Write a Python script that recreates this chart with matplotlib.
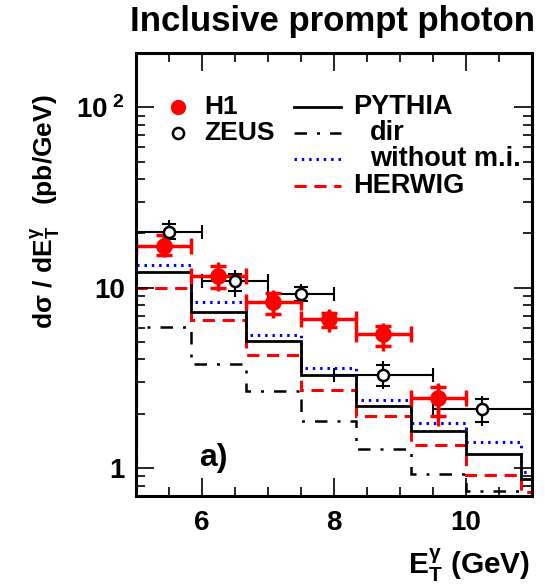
import matplotlib
matplotlib.use('Agg')
import matplotlib.pyplot as plt
import numpy as np

plt.rcParams['font.family'] = ['Liberation Sans', 'DejaVu Sans']
plt.rcParams['font.weight'] = 'bold'
plt.rcParams['mathtext.fontset'] = 'custom'
plt.rcParams['mathtext.rm'] = 'Liberation Sans:bold'
plt.rcParams['mathtext.it'] = 'Liberation Sans:bold'
plt.rcParams['mathtext.bf'] = 'Liberation Sans:bold'
plt.rcParams['mathtext.default'] = 'rm'

# H1 data points
h1_x = [5.42, 6.25, 7.08, 7.92, 8.75, 9.58]
h1_lo = [5.0, 5.833, 6.667, 7.5, 8.333, 9.167]
h1_hi = [5.833, 6.667, 7.5, 8.333, 9.167, 10.0]
h1_y = [17.1, 11.6, 8.3, 6.7, 5.55, 2.45]
h1_tot_up = [20.2, 13.8, 9.75, 7.6, 6.4, 2.96]
h1_tot_dn = [14.7, 9.55, 6.8, 5.7, 4.44, 1.7]
h1_stat_up = [19.6, 13.2, 9.4, 7.25, 6.15, 2.8]
h1_stat_dn = [15.2, 10.0, 7.1, 6.05, 4.75, 1.95]

# ZEUS data points
z_x = [5.5, 6.5, 7.5, 8.75, 10.25]
z_lo = [5.0, 6.0, 7.0, 8.0, 9.5]
z_hi = [6.0, 7.0, 8.0, 9.5, 11.0]
z_y = [20.3, 10.9, 9.26, 3.27, 2.13]
z_tot_up = [23.6, 12.5, 10.5, 3.94, 2.5]
z_tot_dn = [17.8, 8.9, 7.95, 2.73, 1.7]
z_stat_up = [22.4, 11.9, 10.1, 3.75, 2.4]
z_stat_dn = [18.6, 9.6, 8.4, 2.85, 1.8]

# MC predictions (histograms)
edges = [5.0, 5.833, 6.667, 7.5, 8.333, 9.167, 10.0, 10.833, 11.667]
pythia = [12.15, 7.33, 5.04, 3.30, 2.22, 1.61, 1.19, 0.87]
pythia_dir = [6.03, 3.79, 2.69, 1.82, 1.28, 0.93, 0.75, 0.6]
pythia_nomi = [13.4, 8.33, 5.49, 3.58, 2.37, 1.77, 1.39, 0.95]
herwig = [10.0, 6.65, 4.25, 2.72, 1.94, 1.35, 0.92, 0.74]

fig = plt.figure(figsize=(5.45, 5.86), dpi=100)
ax = fig.add_axes([0.2495, 0.1536, 0.7265, 0.756])

# histogramas
ax.stairs(pythia_dir, edges, color='black', lw=1.8, linestyle=(0, (5, 4, 1.2, 4)))
ax.stairs(herwig, edges, color='red', lw=2.2, linestyle=(0, (4, 2.5)))
ax.stairs(pythia_nomi, edges, color='blue', lw=2.2, linestyle=(0, (0.8, 1.6)))
ax.stairs(pythia, edges, color='black', lw=2.0)

# ZEUS
zx = np.array(z_x)
zy = np.array(z_y)
z_xerr = [zx - np.array(z_lo), np.array(z_hi) - zx]
ax.errorbar(zx, zy, xerr=z_xerr, fmt='none', ecolor='black', elinewidth=1.5, capsize=5, capthick=1.5)
ax.errorbar(zx, zy, yerr=[zy - np.array(z_tot_dn), np.array(z_tot_up) - zy], fmt='none', ecolor='black', elinewidth=1.5)
ax.errorbar(zx, zy, yerr=[zy - np.array(z_stat_dn), np.array(z_stat_up) - zy], fmt='none', ecolor='black', elinewidth=1.5, capsize=5, capthick=1.5)
ax.plot(zx, zy, 'o', ms=8, mfc='white', mec='black', mew=1.8, zorder=5)

# H1
hx = np.array(h1_x)
hy = np.array(h1_y)
h_xerr = [hx - np.array(h1_lo), np.array(h1_hi) - hx]
ax.errorbar(hx, hy, xerr=h_xerr, fmt='none', ecolor='red', elinewidth=2.5, capsize=6, capthick=2.5)
ax.errorbar(hx, hy, yerr=[hy - np.array(h1_tot_dn), np.array(h1_tot_up) - hy], fmt='none', ecolor='red', elinewidth=2.5)
ax.errorbar(hx, hy, yerr=[hy - np.array(h1_stat_dn), np.array(h1_stat_up) - hy], fmt='none', ecolor='red', elinewidth=2.5, capsize=6, capthick=2.5)
ax.plot(hx, hy, 'o', ms=11, color='red', zorder=6)

# ejes
ax.set_yscale('log')
ax.set_xlim(5, 11)
ax.set_ylim(0.70, 200)
ax.set_yticks([1, 10, 100])
ax.set_yticklabels(['1', '10', r'10$^{\ 2}$'])
ax.yaxis.set_minor_locator(matplotlib.ticker.LogLocator(base=10, subs=np.arange(2, 10)))
ax.yaxis.set_minor_formatter(matplotlib.ticker.NullFormatter())
ax.set_xticks([6, 8, 10])
ax.set_xticks(np.arange(5, 11.01, 0.5), minor=True)
ax.tick_params(which='both', direction='in', top=True, right=True, labelsize=20, width=1.2)
ax.tick_params(which='major', length=13)
ax.tick_params(which='minor', length=6.5)
ax.tick_params(axis='y', pad=8)
ax.tick_params(axis='x', pad=10)
for s in ax.spines.values():
    s.set_linewidth(2.2)

# leyenda manual
ax.plot([0.106], [0.878], 'o', ms=10, color='red', transform=ax.transAxes)
ax.plot([0.106], [0.819], 'o', ms=8, mfc='white', mec='black', mew=1.8, transform=ax.transAxes)
ax.text(0.172, 0.878, 'H1', transform=ax.transAxes, fontsize=19, va='center')
ax.text(0.172, 0.819, 'ZEUS', transform=ax.transAxes, fontsize=19, va='center')
ax.plot([0.40, 0.519], [0.878, 0.878], color='black', lw=2.0, transform=ax.transAxes)
ax.plot([0.40, 0.519], [0.819, 0.819], color='black', lw=1.8, linestyle=(0, (5, 4, 1.2, 4)), transform=ax.transAxes)
ax.plot([0.40, 0.519], [0.761, 0.761], color='blue', lw=2.2, linestyle=(0, (0.8, 1.6)), transform=ax.transAxes)
ax.plot([0.40, 0.519], [0.700, 0.700], color='red', lw=2.2, linestyle=(0, (4, 2.5)), transform=ax.transAxes)
ax.text(0.549, 0.878, 'PYTHIA', transform=ax.transAxes, fontsize=19.5, va='center')
ax.text(0.59, 0.819, 'dir', transform=ax.transAxes, fontsize=19.5, va='center')
ax.text(0.59, 0.761, 'without m.i.', transform=ax.transAxes, fontsize=19.5, va='center')
ax.text(0.549, 0.700, 'HERWIG', transform=ax.transAxes, fontsize=19.5, va='center')

ax.text(0.16, 0.086, 'a)', transform=ax.transAxes, fontsize=23, va='center')

# textos
fig.text(332 / 545, 1 - 22 / 586, 'Inclusive prompt photon', fontsize=25, ha='center', va='center')
fig.text(45 / 545, 1 - 212 / 586, r'd$\sigma$ / dE$_T^{\gamma}$   (pb/GeV)', fontsize=19, rotation=90, ha='center', va='center')
fig.text(530 / 545, 1 - 565 / 586, r'E$_T^{\gamma}$ (GeV)', fontsize=21.5, ha='right', va='center')

fig.savefig('out.png', dpi=100)
